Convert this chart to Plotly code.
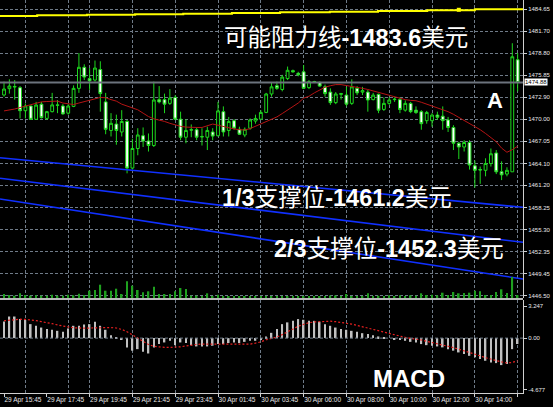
import plotly.graph_objects as go

# ---- XAUUSD M15 bars (index 0 = 29 Apr 15:45) ----
open_ = [1473.22, 1474.06, 1474.35, 1474.19, 1471.13, 1471.75, 1469.98, 1472.0, 1470.1, 1471.0,
         1471.9, 1471.75, 1470.8, 1471.7, 1474.1, 1476.9, 1475.4, 1475.2, 1476.6, 1472.3,
         1468.5, 1469.35, 1468.3, 1469.7, 1463.5, 1466.1, 1467.8, 1467.1, 1466.5, 1472.6,
         1472.6, 1472.1, 1472.9, 1470.0, 1467.6, 1468.6, 1468.6, 1467.7, 1467.6, 1468.3,
         1467.8, 1471.0, 1468.5, 1469.8, 1468.65, 1467.9, 1468.8, 1469.75, 1470.0, 1470.9,
         1473.35, 1474.45, 1473.95, 1475.4, 1476.45, 1476.1, 1476.3, 1474.2, 1475.0, 1474.9,
         1474.3, 1473.6, 1472.2, 1473.3, 1473.2, 1472.1, 1474.1, 1473.6, 1473.6, 1472.6,
         1473.3, 1471.3, 1472.1, 1472.6, 1472.6, 1471.2, 1472.1, 1471.2, 1471.0, 1469.8,
         1469.8, 1470.55, 1470.4, 1469.9, 1468.9, 1466.8, 1466.3, 1466.9, 1463.8, 1463.3,
         1463.2, 1464.1, 1465.5, 1463.0, 1462.7, 1463.0, 1477.9]
high = [1475.0, 1475.3, 1475.2, 1474.4, 1472.1, 1471.8, 1472.3, 1472.3, 1471.1, 1473.5,
        1472.55, 1472.0, 1472.0, 1474.5, 1478.8, 1477.3, 1476.8, 1477.8, 1477.7, 1473.5,
        1470.8, 1470.6, 1471.2, 1469.9, 1467.4, 1468.8, 1468.9, 1468.1, 1475.0, 1474.4,
        1473.4, 1474.0, 1473.2, 1471.0, 1470.0, 1469.3, 1468.9, 1468.8, 1469.0, 1468.8,
        1472.3, 1471.7, 1470.3, 1470.0, 1469.0, 1468.9, 1470.1, 1470.6, 1471.2, 1473.5,
        1474.9, 1475.0, 1475.9, 1477.0, 1476.6, 1476.3, 1477.2, 1475.2, 1475.1, 1475.0,
        1474.6, 1474.1, 1473.6, 1473.5, 1474.3, 1475.3, 1474.4, 1474.3, 1473.9, 1473.5,
        1473.4, 1472.9, 1472.9, 1472.9, 1472.9, 1472.5, 1472.3, 1471.7, 1471.2, 1471.1,
        1470.8, 1471.0, 1471.7, 1470.3, 1469.2, 1467.0, 1467.2, 1467.2, 1464.5, 1463.7,
        1464.8, 1466.1, 1465.9, 1464.4, 1463.6, 1480.1, 1478.8]
low = [1473.0, 1473.4, 1472.6, 1470.1, 1470.1, 1469.9, 1469.9, 1470.1, 1469.9, 1470.9,
       1470.8, 1470.6, 1470.6, 1471.6, 1473.5, 1475.2, 1473.9, 1475.0, 1471.0, 1468.0,
       1467.7, 1466.6, 1467.7, 1462.8, 1463.3, 1465.2, 1466.3, 1465.7, 1466.3, 1472.1,
       1470.8, 1471.9, 1469.9, 1467.2, 1466.8, 1467.6, 1467.2, 1466.5, 1465.9, 1467.2,
       1467.7, 1467.7, 1467.7, 1468.6, 1467.9, 1467.6, 1468.6, 1469.4, 1469.9, 1470.8,
       1473.0, 1473.9, 1473.7, 1475.2, 1476.2, 1475.7, 1474.0, 1474.0, 1474.8, 1474.3,
       1473.0, 1471.9, 1472.0, 1472.6, 1471.7, 1471.9, 1473.2, 1473.2, 1471.0, 1472.5,
       1470.8, 1471.1, 1471.9, 1472.3, 1470.8, 1471.0, 1470.8, 1470.7, 1468.6, 1469.4,
       1469.0, 1469.9, 1468.6, 1468.3, 1465.9, 1464.7, 1465.7, 1463.3, 1460.9, 1461.4,
       1462.4, 1463.7, 1462.7, 1461.9, 1462.4, 1463.0, 1473.7]
close = [1474.01, 1474.41, 1474.30, 1471.13, 1471.75, 1469.98, 1471.88, 1470.2, 1471.0, 1471.9,
         1471.85, 1470.7, 1471.75, 1474.1, 1476.9, 1475.6, 1475.1, 1476.8, 1473.4, 1468.65,
         1469.45, 1468.5, 1469.7, 1463.5, 1466.1, 1467.9, 1467.1, 1466.5, 1472.55, 1472.3,
         1472.0, 1472.8, 1470.0, 1467.6, 1468.5, 1468.55, 1467.6, 1467.65, 1468.5, 1467.75,
         1471.1, 1468.3, 1469.7, 1468.8, 1468.0, 1468.65, 1469.9, 1470.1, 1470.9, 1473.35,
         1474.3, 1474.1, 1475.6, 1476.5, 1476.3, 1475.9, 1474.1, 1475.0, 1474.95, 1474.4,
         1473.4, 1472.2, 1473.35, 1473.4, 1472.0, 1474.3, 1473.5, 1473.8, 1472.55, 1473.2,
         1471.2, 1472.1, 1472.55, 1472.65, 1471.3, 1472.1, 1471.0, 1470.9, 1469.4, 1470.9,
         1470.55, 1470.25, 1469.8, 1468.9, 1466.8, 1466.3, 1466.9, 1463.9, 1463.2, 1463.25,
         1464.1, 1465.4, 1463.0, 1462.6, 1463.2, 1478.3, 1474.88]
moving_avg = [1471.1, 1471.2, 1471.35, 1471.55, 1471.75, 1471.95, 1472.15, 1472.3, 1472.35, 1472.4,
              1472.4, 1472.15, 1472.0, 1471.95, 1472.15, 1472.3, 1472.45, 1472.7, 1472.9, 1472.85,
              1472.6, 1472.4, 1472.0, 1471.75, 1471.45, 1471.25, 1470.8, 1470.35, 1470.05, 1469.9,
              1469.7, 1469.45, 1469.2, 1469.05, 1468.95, 1468.9, 1468.9, 1468.9, 1469.15, 1469.35,
              1469.2, 1469.0, 1468.85, 1468.7, 1468.6, 1468.56, 1468.75, 1469.05, 1469.35, 1469.65,
              1469.95, 1470.3, 1470.75, 1471.2, 1471.7, 1472.15, 1472.8, 1473.05, 1473.5, 1473.85,
              1474.25, 1474.45, 1474.6, 1474.6, 1474.5, 1474.4, 1474.3, 1474.1, 1473.95, 1473.75,
              1473.6, 1473.4, 1473.2, 1472.95, 1472.8, 1472.6, 1472.5, 1472.45, 1472.25, 1472.0,
              1471.8, 1471.45, 1471.2, 1471.0, 1470.65, 1470.25, 1469.8, 1469.4, 1469.0, 1468.6,
              1468.1, 1467.55, 1467.0, 1466.15, 1465.6, 1465.95, 1466.4]
volume = [400, 300, 230, 470, 300, 230, 270, 230, 230, 330, 230, 230, 330, 270, 430, 300, 730, 800,
          1330, 730, 730, 930, 400, 1670, 1230, 800, 570, 670, 1130, 400, 400, 400, 670, 1000, 900,
          230, 230, 200, 470, 200, 330, 200, 200, 200, 200, 200, 200, 200, 200, 200, 200,
          200, 200, 200, 200, 200, 200, 200, 200, 200, 200, 250, 250, 200, 400, 200, 200, 200, 470,
          200, 230, 200, 270, 200, 270, 200, 270, 230, 470, 300, 330, 270, 530, 300, 600, 470, 500,
          530, 730, 670, 300, 300, 600, 870, 500, 2100, 300]
macd_main = [1.42, 1.84, 1.84, 1.62, 1.54, 1.19, 1.05, 0.9, 0.77, 0.71, 0.62, 0.54, 0.82, 1.05,
             1.05, 1.16, 1.19, 1.39, 1.05, 0.71, 0.25, 0.05, -0.08, -0.79, -1.07, -0.94, -1.16,
             -1.31, -0.79, -0.51, -0.37, -0.23, -0.6, -0.37, -0.42, -0.6, -0.71, -0.71, -0.71,
             -0.65, -0.51, -0.51, -0.42, -0.37, -0.42, -0.32, -0.23, -0.23, -0.08, 0.14, 0.45,
             0.77, 1.19, 1.34, 1.47, 1.62, 1.56, 1.47, 1.47, 1.39, 1.19, 1.05, 0.9, 0.77, 0.71,
             0.62, 0.54, 0.42, 0.34, 0.25, 0.14, 0.05, 0.0, -0.08, -0.14, -0.23, -0.32, -0.37,
             -0.51, -0.6, -0.65, -0.71, -0.79, -0.94, -1.07, -1.22, -1.36, -1.51, -1.64, -1.79,
             -1.93, -2.08, -2.13, -2.3, -2.21, -0.94, -0.5]
macd_signal = [1.48, 1.53, 1.58, 1.61, 1.59, 1.56, 1.49, 1.4, 1.33, 1.23, 1.12, 1.01, 0.95, 0.88,
               0.85, 0.85, 0.86, 0.88, 0.9, 0.9, 0.9, 0.86, 0.74, 0.54, 0.27, 0.0, -0.32, -0.54,
               -0.7, -0.77, -0.79, -0.79, -0.78, -0.74, -0.67, -0.59, -0.54, -0.51, -0.51, -0.51,
               -0.54, -0.56, -0.57, -0.57, -0.57, -0.55, -0.51, -0.43, -0.32, -0.14, -0.05,
               0.09, 0.3, 0.56, 0.81, 1.01, 1.17, 1.31, 1.38, 1.42, 1.44, 1.44, 1.4, 1.35, 1.28,
               1.19, 1.08, 0.96, 0.86, 0.74, 0.63, 0.52, 0.41, 0.3, 0.18, 0.06, -0.02, -0.07,
               -0.16, -0.27, -0.37, -0.47, -0.57, -0.68, -0.81, -0.95, -1.08, -1.22, -1.35,
               -1.51, -1.67, -1.8, -1.91, -2.03, -2.12, -2.07, -1.93]
bars = list(range(len(close)))

# resistance (stepped) line and the three support fan lines
resist_x = [-0.75, 6.2, 15.5, 24.5, 33.5, 42.6, 51.6, 60.9, 69.9, 79.1, 88.0, 97.0]
resist_y = [1483.72, 1483.81, 1483.89, 1483.95, 1484.02, 1484.12, 1484.21, 1484.29, 1484.38,
            1484.48, 1484.61, 1484.61]
resist_anchor = (85, 1484.55)
fan_x = [-0.75, 97.0]
fan_top = [1464.88, 1458.28]
fan_mid = [1462.14, 1453.63]
fan_low = [1459.38, 1448.75]

# axis labels
price_ticks = [1484.65, 1481.70, 1478.80, 1475.85, 1472.90, 1470.00, 1467.05, 1464.10,
               1461.20, 1458.25, 1455.30, 1452.35, 1449.45, 1446.50]
macd_ticks = [2.736, 0.0, -4.42]
macd_tick_text = ["3.247", "0.00", "-4.677"]
time_bars = [0, 8, 16, 24, 32, 40, 48, 56, 64, 72, 80, 88, 96]
time_labels = ["29 Apr 15:45", "29 Apr 17:45", "29 Apr 19:45", "29 Apr 21:45", "29 Apr 23:45",
               "30 Apr 01:45", "30 Apr 03:45", "30 Apr 06:00", "30 Apr 08:00", "30 Apr 10:00",
               "30 Apr 12:00", "30 Apr 14:00", "30 Apr 16:00"]
grid_bars = [4, 12, 16, 24, 32, 40, 48, 56, 64, 72, 80, 88, 96]

W, H = 553, 407
GRID = "#6F7B88"
CANDLE = "#1ED81E"
AXIS_FONT = dict(family="Liberation Sans, sans-serif", size=6, color="#E8E8E8")
TXT_FONT = "Liberation Sans, Noto Sans CJK SC, sans-serif"

fig = go.Figure()

fig.add_trace(go.Bar(x=bars, y=volume, width=0.3, marker=dict(color="#1FA01F", line=dict(width=0)),
                     xaxis="x", yaxis="y3", hoverinfo="skip"))
fig.add_trace(go.Candlestick(
    x=bars, open=open_, high=high, low=low, close=close, whiskerwidth=0,
    increasing=dict(line=dict(color=CANDLE, width=1), fillcolor="#000000"),
    decreasing=dict(line=dict(color=CANDLE, width=1), fillcolor="#FFFFFF"),
    xaxis="x", yaxis="y"))
fig.add_trace(go.Scatter(x=bars, y=moving_avg, mode="lines", line=dict(color="#B41414", width=1),
                         xaxis="x", yaxis="y"))
for ys in (fan_top, fan_mid, fan_low):
    fig.add_trace(go.Scatter(x=fan_x, y=ys, mode="lines", line=dict(color="#1030FF", width=1.6),
                             xaxis="x", yaxis="y"))
fig.add_trace(go.Scatter(x=resist_x, y=resist_y, mode="lines", line=dict(color="#FFFF00", width=2, shape="hv"),
                         xaxis="x", yaxis="y"))
fig.add_trace(go.Scatter(x=[resist_anchor[0]], y=[resist_anchor[1]], mode="markers",
                         marker=dict(symbol="square", size=4, color="#FFFF00"), xaxis="x", yaxis="y"))

fig.add_trace(go.Bar(x=bars, y=macd_main, width=0.3, marker=dict(color="#C0C0C0", line=dict(width=0)),
                     xaxis="x", yaxis="y2"))
fig.add_trace(go.Scatter(x=bars, y=macd_signal, mode="lines",
                         line=dict(color="#E82020", width=1.2, dash="2px,2px"), xaxis="x", yaxis="y2"))
fig.add_trace(go.Scatter(x=time_bars, y=[0] * len(time_bars), mode="markers", marker=dict(opacity=0),
                         xaxis="x3", yaxis="y2", hoverinfo="skip"))

xr = [-0.75, 97.0]
xdom = [0, 523 / W]
main_dom = [1 - 298 / H, 1]
macd_dom = [1 - 393 / H, 1 - 300 / H]

fig.update_layout(
    width=W, height=H, margin=dict(l=0, r=0, t=0, b=0, autoexpand=False),
    paper_bgcolor="#000000", plot_bgcolor="#000000",
    showlegend=False, barmode="overlay", boxgap=0.25,
    xaxis=dict(domain=xdom, range=xr, anchor="y2", tickvals=grid_bars, showticklabels=False,
               showgrid=True, gridcolor=GRID, griddash="3px,2px", gridwidth=1, zeroline=False,
               automargin=False, showline=True, linecolor="#D0D0D0", linewidth=1,
               rangeslider=dict(visible=False)),
    xaxis3=dict(overlaying="x", anchor="y2", range=xr, tickvals=time_bars, ticktext=time_labels,
                ticklabelposition="outside right", tickangle=0, ticks="outside", ticklen=3,
                tickcolor="#D0D0D0", showgrid=False, zeroline=False, showline=False, automargin=False,
                tickfont=dict(family="Liberation Sans, sans-serif", size=6.5, color="#E8E8E8")),
    yaxis=dict(domain=main_dom, range=[1446.22, 1485.85], side="right", anchor="x",
               tickvals=price_ticks, ticktext=[f"{v:.2f}" for v in price_ticks],
               ticks="outside", ticklen=3, tickcolor="#D0D0D0", automargin=False,
               showgrid=True, gridcolor=GRID, griddash="3px,2px", zeroline=False,
               showline=True, linecolor="#D0D0D0", linewidth=1, tickfont=AXIS_FONT),
    yaxis2=dict(domain=macd_dom, range=[-4.677, 3.247], side="right", anchor="x",
                tickvals=macd_ticks, ticktext=macd_tick_text, ticks="outside", ticklen=3,
                tickcolor="#D0D0D0", showgrid=False, zeroline=False, automargin=False,
                showline=True, linecolor="#D0D0D0", linewidth=1, tickfont=AXIS_FONT),
    yaxis3=dict(overlaying="y", range=[0, 29800], visible=False),
)

# bid line, panel separator and MACD zero level
fig.add_shape(type="line", xref="x domain", x0=0, x1=1, yref="y", y0=close[-1], y1=close[-1],
              line=dict(color="#6C737D", width=2))
fig.add_shape(type="line", xref="paper", x0=0, x1=xdom[1], yref="paper", y0=1 - 299 / H, y1=1 - 299 / H,
              line=dict(color="#B8B8B8", width=2))
fig.add_shape(type="line", xref="x domain", x0=0, x1=1, yref="y2", y0=0, y1=0,
              line=dict(color=GRID, width=1, dash="3px,2px"))

# current price tag
fig.add_annotation(xref="paper", x=xdom[1] + 1 / W, xanchor="left", yref="y", y=close[-1],
                   text=f"{close[-1]:.2f}", showarrow=False, bgcolor="#FFFFFF", borderpad=0,
                   font=dict(family="Liberation Sans, sans-serif", size=6, color="#000000"))

notes = [
    ("可能阻力线<b>-1483.6</b>美元", 222, 38, 23.5),
    ("<b>1/3</b>支撑位<b>-1461.2</b>美元", 220, 198, 23.5),
    ("<b>2/3</b>支撑位<b>-1452.3</b>美元", 272, 249, 23.5),
    ("<b>A</b>", 485, 100, 22),
    ("<b>MACD</b>", 371, 378, 24),
]
for text, px, py, size in notes:
    fig.add_annotation(xref="paper", yref="paper", x=px / W, y=1 - py / H, xanchor="left",
                       yanchor="middle", text=text, showarrow=False,
                       font=dict(family=TXT_FONT, size=size, color="#FFFFFF"))

fig.write_html("out.html")
